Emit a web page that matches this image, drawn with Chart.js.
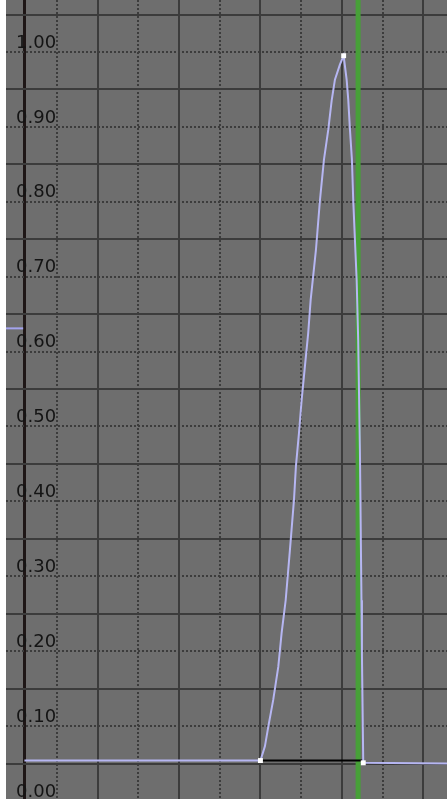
<!DOCTYPE html>
<html><head><meta charset="utf-8">
<script src="https://cdn.jsdelivr.net/npm/chart.js@4"></script>
<style>html,body{margin:0;padding:0;overflow:hidden;background:#fff}#wrap{width:447px;height:801px}</style>
</head><body><div id="wrap"><canvas id="c" width="447" height="801"></canvas></div>
<script>
// ---- data ----
const curveFrames = [1, 30, 30.55, 30.96, 31.57, 32.19, 32.60, 33.10, 33.62, 34.12, 34.36, 34.73, 35.06, 35.47, 35.87, 36.17, 36.82, 37.31, 37.80, 38.33, 38.75, 39.15, 39.76, 40.22, 40.59, 40.79, 41.00, 41.24, 41.40, 41.61, 41.82, 42.01, 42.22, 42.41, 42.47, 42.63, 52.92];
const curveValues = [0.054, 0.054, 0.073, 0.099, 0.135, 0.179, 0.224, 0.268, 0.335, 0.402, 0.447, 0.491, 0.535, 0.581, 0.625, 0.669, 0.736, 0.802, 0.856, 0.896, 0.935, 0.963, 0.983, 0.995, 0.963, 0.936, 0.896, 0.856, 0.802, 0.749, 0.696, 0.615, 0.469, 0.268, 0.195, 0.051, 0.050];
const keyFrames = [30, 40.22, 42.63];
const handleFrames = [30, 42.63];
const handleValues = [0.054, 0.054];
const currentFrame = 42.0;
const markerFrames = [-1.26, 0.85];
const markerValues = [0.631, 0.631];
const yLabelTicks = [0.00, 0.10, 0.20, 0.30, 0.40, 0.50, 0.60, 0.70, 0.80, 0.90, 1.00];
const yHalfTicks = [0.05, 0.15, 0.25, 0.35, 0.45, 0.55, 0.65, 0.75, 0.85, 0.95, 1.05];
const xMajorTicks = [10, 20, 30, 40, 50];
const xMinorTicks = [5, 15, 25, 35, 45];
const axisFrame = 1;

const toXY = (xs, ys) => xs.map((x, i) => ({x: x, y: ys[i]}));
const isLabel = v => Math.abs(Math.round(v * 100) % 10) === 0;

const bgPlugin = {
  id: 'bg',
  beforeDraw(chart) {
    const {ctx, chartArea: a} = chart;
    ctx.save();
    ctx.fillStyle = '#ffffff';
    ctx.fillRect(0, 0, chart.width, chart.height);
    ctx.fillStyle = '#6e6e6e';
    ctx.fillRect(a.left, a.top, a.right - a.left, a.bottom - a.top);
    ctx.restore();
  }
};

new Chart(document.getElementById('c'), {
  type: 'line',
  data: {
    datasets: [
      {
        data: toXY(curveFrames, curveValues),
        borderColor: '#b6b6f2',
        borderWidth: 2,
        tension: 0,
        pointStyle: 'rect',
        pointRadius: c => keyFrames.includes(c.raw && c.raw.x) ? 3.5 : 0,
        pointBackgroundColor: '#ffffff',
        pointBorderColor: '#ffffff',
        pointBorderWidth: 0
      },
      {
        data: toXY(handleFrames, handleValues),
        borderColor: '#000000',
        borderWidth: 2,
        pointRadius: 0
      },
      {
        data: toXY(markerFrames, markerValues),
        borderColor: '#a4a4ee',
        borderWidth: 2,
        pointRadius: 0
      },
      {
        data: [{x: currentFrame, y: -0.1}, {x: currentFrame, y: 1.2}],
        borderColor: '#47a038',
        borderWidth: 5,
        pointRadius: 0
      }
    ]
  },
  options: {
    responsive: false,
    devicePixelRatio: 1,
    animation: false,
    layout: {autoPadding: false, padding: {left: 6, right: 0, top: 0, bottom: 0}},
    plugins: {legend: {display: false}, tooltip: {enabled: false}},
    scales: {
      x: {
        type: 'linear',
        min: -1.26,
        max: 52.92,
        afterBuildTicks: s => { s.ticks = [axisFrame].concat(xMinorTicks, xMajorTicks).sort((a, b) => a - b).map(v => ({value: v})); },
        afterFit: s => { s.height = 0; s.paddingLeft = 0; s.paddingRight = 0; },
        ticks: {display: false, autoSkip: false},
        grid: {
          drawTicks: false,
          color: c => (c.tick && c.tick.value === axisFrame) ? '#1e1616' : '#3c3c3c',
          lineWidth: c => (c.tick && c.tick.value === axisFrame) ? 3 : 2
        },
        border: {
          display: false,
          dash: c => (c.tick && xMinorTicks.includes(c.tick.value)) ? [2, 2] : []
        }
      },
      y: {
        type: 'linear',
        min: 0,
        max: 1.0694,
        afterBuildTicks: s => { s.ticks = yLabelTicks.concat(yHalfTicks).sort((a, b) => a - b).map(v => ({value: v})); },
        afterFit: s => { s.width = 0; s.paddingTop = 0; s.paddingBottom = 0; },
        ticks: {
          mirror: true,
          padding: 10,
          labelOffset: -9,
          autoSkip: false,
          z: 1,
          color: '#141414',
          font: {family: 'DejaVu Sans', size: 18},
          callback: v => isLabel(v) ? v.toFixed(2) : ''
        },
        grid: {
          drawTicks: false,
          color: '#3c3c3c',
          lineWidth: 2
        },
        border: {
          display: false,
          dash: c => (c.tick && isLabel(c.tick.value)) ? [2, 2] : []
        }
      }
    }
  },
  plugins: [bgPlugin]
});
</script></body></html>
